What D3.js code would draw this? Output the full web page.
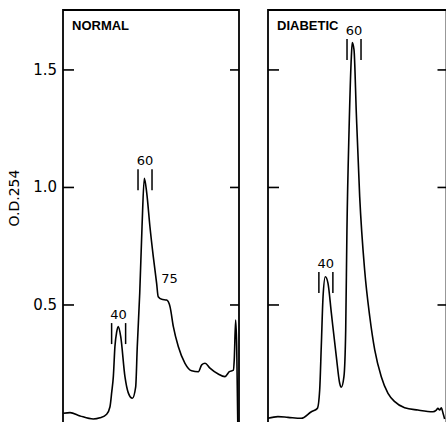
<!DOCTYPE html>
<html>
<head>
<meta charset="utf-8">
<script src="https://cdn.jsdelivr.net/npm/d3@7"></script>
<style>
  body { margin: 0; background: #fff; }
  svg { display: block; }
</style>
</head>
<body>
<svg id="chart" width="446" height="422"></svg>
<script>
// gradient position (% of tube length) and absorbance
const normalX = [0.2, 4.0, 9.7, 17.2, 21.0, 24.8, 26.7, 27.7, 28.6, 29.5, 30.5, 31.4, 32.8, 35.2, 37.1, 39.4,
    41.3, 42.2, 43.6, 44.9, 46.2, 47.6, 49.4, 51.3, 53.2, 54.1, 56.1, 58.9, 60.8, 62.7, 65.5, 69.3,
    73.1, 76.9, 78.8, 80.7, 83.5, 88.2, 92.0, 94.5, 96.8, 97.3, 98.1, 98.7, 99.3];
const normalOD = [0.039, 0.042, 0.028, 0.015, 0.020, 0.035, 0.067, 0.130, 0.195, 0.323, 0.385, 0.408, 0.365, 0.195, 0.126, 0.103,
    0.152, 0.323, 0.551, 0.833, 1.039, 0.975, 0.833, 0.706, 0.592, 0.535, 0.524, 0.521, 0.493, 0.408, 0.323, 0.252,
    0.220, 0.216, 0.245, 0.252, 0.231, 0.206, 0.195, 0.216, 0.223, 0.266, 0.436, 0.323, 0.0];

const diabeticX = [0, 5.6, 11.3, 18.8, 24.5, 27.9, 29.2, 30.1, 31.1, 32.4, 33.9, 35.8, 38.6, 40.5, 41.4, 42.9,
    43.9, 44.6, 45.8, 47.1, 47.6, 48.6, 49.9, 51.8, 54.6, 57.5, 60.3, 64.0, 67.8, 71.6, 77.2, 84.7,
    93.2, 95.1, 96.0, 97.0, 97.9, 98.9, 99.8];
const diabeticOD = [0.018, 0.025, 0.022, 0.018, 0.046, 0.060, 0.138, 0.323, 0.535, 0.620, 0.592, 0.465, 0.280, 0.167, 0.150, 0.195,
    0.394, 0.819, 1.245, 1.557, 1.616, 1.585, 1.316, 0.961, 0.649, 0.450, 0.309, 0.195, 0.124, 0.089, 0.063, 0.053,
    0.046, 0.053, 0.060, 0.053, 0.063, 0.039, 0.015];

const yTicks = [0.5, 1.0, 1.5];
const yTickLabels = ["0.5", "1.0", "1.5"];

// peak annotations: label, position, height of label
const normalPeaks = ["40", "60", "75"];
const normalPeakX = [31.6, 46.6, 60.5];
const normalPeakOD = [0.44, 1.095, 0.594];
const normalPeakBars = [true, true, false];

const diabeticPeaks = ["40", "60"];
const diabeticPeakX = [32.7, 48.6];
const diabeticPeakOD = [0.657, 1.649];
const diabeticPeakBars = [true, true];

const panels = [
    {title: "NORMAL", xs: normalX, ys: normalOD, labels: normalPeaks, px: normalPeakX, py: normalPeakOD, bars: normalPeakBars,
     left: 63, right: 239, showLabels: true},
    {title: "DIABETIC", xs: diabeticX, ys: diabeticOD, labels: diabeticPeaks, px: diabeticPeakX, py: diabeticPeakOD, bars: diabeticPeakBars,
     left: 268, right: 446.5, xEnd: 445, showLabels: false}
];

const [width, height] = [446, 422];
const topY = 10;
const svg = d3.select("#chart");

const y = d3.scaleLinear().domain([0, 1.755]).range([422.5, topY]);

panels.forEach(p => {
    const x = d3.scaleLinear().domain([0, 100]).range([p.left, p.xEnd || p.right]);
    const g = svg.append("g");

    // frame (open at the bottom)
    g.append("path")
        .attr("d", `M${p.left},${height + 2}V${topY}H${p.right}V${height + 2}`)
        .attr("fill", "none")
        .attr("stroke", "#000")
        .attr("stroke-width", 1.8);

    // ticks on both sides, pointing inward
    g.selectAll(".tl")
        .data(yTicks)
        .join("line")
        .attr("class", "tl")
        .attr("x1", p.left).attr("x2", p.left + 11)
        .attr("y1", d => y(d)).attr("y2", d => y(d))
        .attr("stroke", "#000").attr("stroke-width", 1.6);
    g.selectAll(".tr")
        .data(yTicks)
        .join("line")
        .attr("class", "tr")
        .attr("x1", p.right - 9).attr("x2", p.right)
        .attr("y1", d => y(d)).attr("y2", d => y(d))
        .attr("stroke", "#000").attr("stroke-width", 1.6);

    if (p.showLabels) {
        g.selectAll(".tlab")
            .data(yTicks)
            .join("text")
            .attr("class", "tlab")
            .attr("x", p.left - 6)
            .attr("y", d => y(d) + 5)
            .attr("text-anchor", "end")
            .attr("font-family", "DejaVu Sans")
            .attr("font-size", 15)
            .text((d, i) => yTickLabels[i]);
    }

    g.append("text")
        .attr("x", p.left + 9)
        .attr("y", 30)
        .attr("font-family", "Liberation Sans, Arial")
        .attr("font-weight", "bold")
        .attr("font-size", 13)
        .text(p.title);

    const line = d3.line()
        .x(d => x(d[0]))
        .y(d => y(d[1]))
        .curve(d3.curveMonotoneX);

    g.append("path")
        .datum(d3.zip(p.xs, p.ys))
        .attr("d", line)
        .attr("fill", "none")
        .attr("stroke", "#000")
        .attr("stroke-width", 1.6)
        .attr("stroke-linejoin", "round");

    // peak labels with bracket bars
    p.labels.forEach((lab, i) => {
        const cx = x(p.px[i]), by = y(p.py[i]);
        g.append("text")
            .attr("x", cx)
            .attr("y", by)
            .attr("text-anchor", "middle")
            .attr("font-family", "DejaVu Sans")
            .attr("font-size", 13)
            .text(lab);
        if (p.bars[i]) {
            [-7, 7].forEach(dx => {
                g.append("line")
                    .attr("x1", cx + dx).attr("x2", cx + dx)
                    .attr("y1", by + 4).attr("y2", by + 25)
                    .attr("stroke", "#000").attr("stroke-width", 1.5);
            });
        }
    });
});

// y axis title
svg.append("text")
    .attr("transform", "translate(19,198) rotate(-90)")
    .attr("text-anchor", "middle")
    .attr("font-family", "DejaVu Sans")
    .attr("font-size", 14)
    .text("O.D.254");
</script>
</body>
</html>
